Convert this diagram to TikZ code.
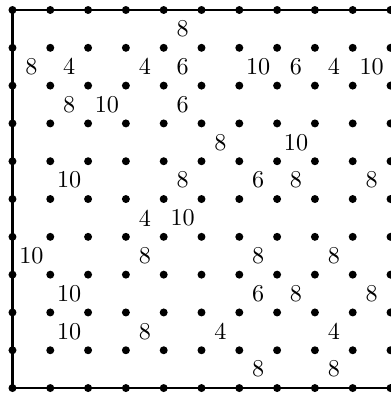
\documentclass[tikz,border=0pt]{standalone}
\usepackage{amsmath}
\usepackage{tikz}

\tikzset{
  gridpt/.style={circle, fill=black, inner sep=0pt, minimum size=3.3pt},
  weight/.style={inner sep=1pt},
  frame/.style={line width=1.1pt},
}

\begin{document}
\begin{tikzpicture}[x=0.55cm, y=0.55cm]
        \useasboundingbox (-0.33,-0.21) rectangle (10,10.265);

        % outer frame
        \coordinate (tr) at (10,10);
        \coordinate (tl) at (0,10);
        \coordinate (bl) at (0,0);
        \coordinate (br) at (10,0);
        \draw[frame] (tr) -- (tl) -- (bl) -- (br);

        % lattice points
        \foreach \i in {0,...,10} {
            \foreach \j in {0,...,10} {
                \node[gridpt] (p-\i-\j) at (\i,\j) {};
            }
        }

        % cell weights (column/row from top/value)
        \foreach \c/\r/\w in {4/0/8,
                0/1/8, 1/1/4, 3/1/4, 4/1/6, 6/1/10, 7/1/6, 8/1/4, 9/1/10,
                1/2/8, 2/2/10, 4/2/6,
                5/3/8, 7/3/10,
                1/4/10, 4/4/8, 6/4/6, 7/4/8, 9/4/8,
                3/5/4, 4/5/10,
                0/6/10, 3/6/8, 6/6/8, 8/6/8,
                1/7/10, 6/7/6, 7/7/8, 9/7/8,
                1/8/10, 3/8/8, 5/8/4, 8/8/4,
                6/9/8, 8/9/8} {
            \node[weight] (w-\c-\r) at (\c+0.5,9.5-\r) {\w};
        }
\end{tikzpicture}
\end{document}
